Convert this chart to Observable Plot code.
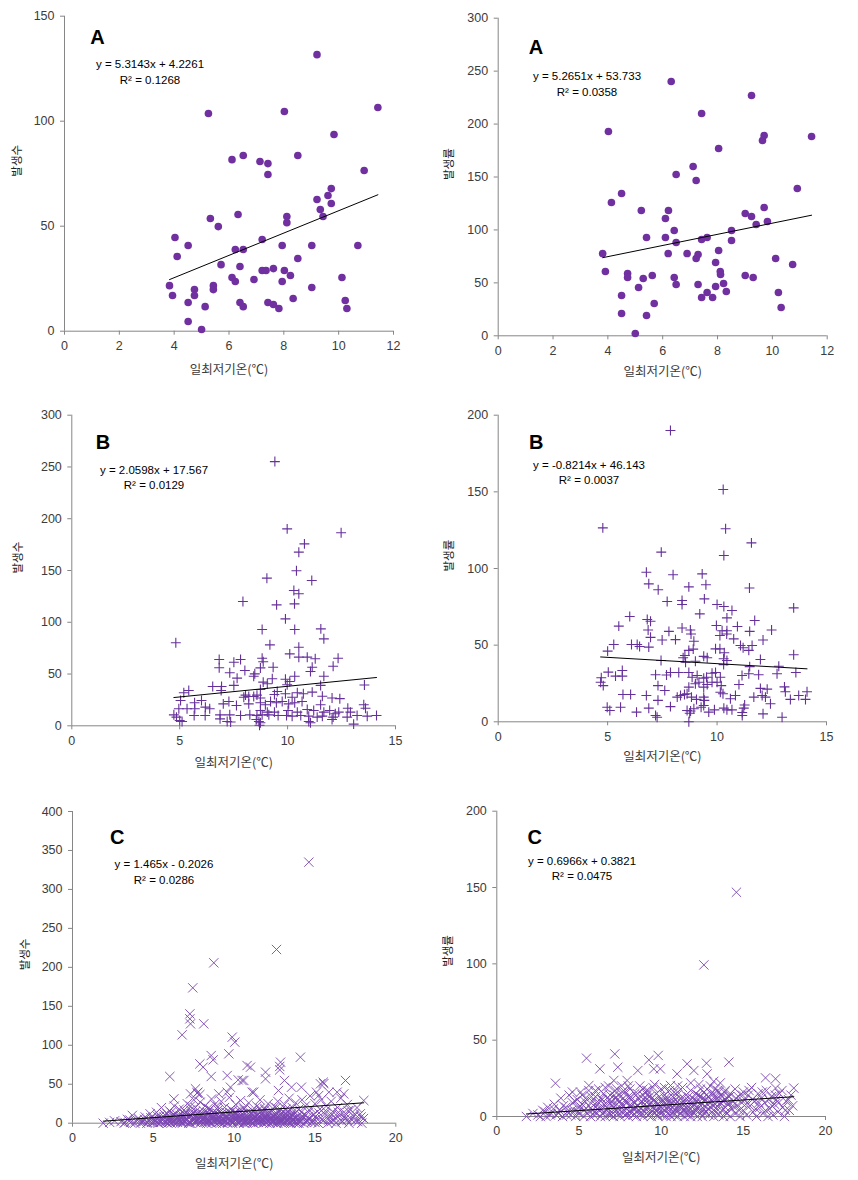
<!DOCTYPE html>
<html><head><meta charset="utf-8">
<script src="https://cdn.jsdelivr.net/npm/d3@7"></script>
<script src="https://cdn.jsdelivr.net/npm/@observablehq/plot@0.6"></script>
<style>
body{margin:0;background:#fff;}
#root{position:relative;width:858px;height:1180px;overflow:hidden;background:#fff;}
#root svg{position:absolute;}
</style></head><body><div id="root"></div>
<script>
// ---------- text ----------
const xLabel = "일최저기온(℃)";
const yLabels = ["발생수","발생률","발생수","발생률","발생수","발생률"];
const letters = ["A","A","B","B","C","C"];
const equations = ["y = 5.3143x + 4.2261","y = 5.2651x + 53.733","y = 2.0598x + 17.567","y = -0.8214x + 46.143","y = 1.465x - 0.2026","y = 0.6966x + 0.3821"];
const r2Labels = ["R² = 0.1268","R² = 0.0358","R² = 0.0129","R² = 0.0037","R² = 0.0286","R² = 0.0475"];
const slopes = [5.3143,5.2651,2.0598,-0.8214,1.465,0.6966];
const intercepts = [4.2261,53.733,17.567,46.143,-0.2026,0.3821];
// ---------- ticks ----------
const xTicksA = [0,2,4,6,8,10,12];
const xTicksB = [0,5,10,15];
const xTicksC = [0,5,10,15,20];
const yTicks1 = [0,50,100,150];
const yTicks2 = [0,50,100,150,200,250,300];
const yTicks3 = [0,50,100,150,200,250,300];
const yTicks4 = [0,50,100,150,200];
const yTicks5 = [0,50,100,150,200,250,300,350,400];
const yTicks6 = [0,50,100,150,200];
// ---------- data [temperature, value] ----------
const aCount = [[9.21,131.7],[5.25,103.7],[8.02,104.6],[11.43,106.5],[9.83,93.7],[6.11,81.7],[6.52,83.7],[7.13,80.8],[7.42,79.8],[7.42,74.6],[8.51,83.7],[10.93,76.5],[9.73,67.9],[9.61,64.6],[9.21,62.7],[9.73,60.8],[9.33,57.9],[9.43,54.6],[8.11,54.6],[8.11,51.7],[6.33,55.6],[5.32,53.7],[5.61,49.8],[4.03,44.6],[4.51,40.8],[4.11,35.6],[7.21,43.7],[6.23,38.9],[6.52,38.9],[7.94,40.8],[9.02,40.8],[10.70,40.8],[8.51,34.6],[5.71,31.7],[6.40,30.8],[7.21,28.9],[7.35,28.9],[7.62,29.8],[8.02,28.9],[8.24,26.5],[6.11,25.6],[6.23,23.7],[6.91,24.6],[7.94,23.7],[10.12,25.6],[3.83,21.7],[4.74,19.8],[4.74,17.0],[5.43,21.7],[5.43,19.8],[9.02,20.8],[3.94,17.0],[4.51,13.7],[5.13,11.7],[6.40,13.7],[6.52,11.7],[7.42,13.7],[7.62,12.7],[7.82,10.8],[8.34,15.6],[10.24,14.6],[10.30,10.8],[4.51,4.6],[5.00,0.8]];
const aRate = [[6.31,240.2],[9.24,227.0],[7.42,210.0],[4.02,193.0],[9.70,189.2],[9.64,184.5],[11.43,188.2],[8.04,176.9],[7.11,159.9],[6.49,152.3],[7.22,146.7],[4.50,134.4],[10.91,139.1],[4.13,125.9],[5.22,118.4],[6.21,118.4],[9.70,121.2],[9.01,115.5],[9.24,112.7],[6.10,110.8],[9.41,105.1],[9.82,108.0],[6.42,99.5],[8.51,99.5],[5.41,92.9],[6.10,92.9],[7.42,91.0],[7.62,92.9],[6.49,88.1],[8.51,90.0],[3.81,77.7],[6.20,77.7],[6.89,77.7],[7.22,73.0],[7.29,76.8],[8.04,80.6],[7.93,69.2],[10.12,73.0],[10.74,67.4],[3.91,60.7],[4.72,58.9],[4.72,55.1],[5.29,54.1],[5.62,57.0],[6.42,55.1],[6.49,48.5],[5.12,45.6],[7.29,48.5],[8.10,60.7],[8.11,57.9],[8.22,49.4],[7.93,46.6],[8.32,41.9],[9.01,57.0],[9.30,55.1],[7.62,40.9],[7.42,36.2],[7.82,36.2],[4.50,38.1],[10.22,40.9],[5.69,30.5],[4.50,21.1],[5.41,19.2],[10.32,26.8],[5.00,2.2]];
const bCount = [[9.41,255.2],[9.98,190.2],[12.48,186.4],[10.78,175.7],[10.52,167.7],[10.41,149.7],[11.12,140.3],[9.04,142.6],[10.29,130.7],[10.52,127.5],[10.32,117.8],[9.49,116.8],[7.93,120.1],[9.90,103.3],[8.82,93.0],[10.33,93.0],[11.54,93.6],[11.68,84.0],[4.82,80.2],[9.18,78.2],[10.52,75.9],[10.10,69.5],[10.52,66.3],[10.91,66.3],[11.28,64.7],[12.34,65.3],[6.83,64.0],[7.82,64.0],[7.51,61.4],[8.82,65.3],[8.87,61.9],[6.83,56.0],[9.33,56.6],[11.14,56.6],[12.11,57.5],[8.74,55.9],[8.02,53.4],[7.32,51.2],[8.48,50.2],[11.06,52.4],[10.33,47.9],[11.68,47.9],[7.66,46.0],[8.43,47.9],[9.29,45.4],[9.90,44.9],[10.10,42.8],[9.98,39.6],[8.87,42.2],[9.06,40.6],[6.53,38.0],[6.94,38.0],[7.51,39.0],[13.56,39.4],[11.53,39.0],[5.42,34.1],[5.19,31.9],[6.92,34.1],[8.74,35.1],[10.45,31.9],[10.73,30.9],[11.14,32.5],[9.52,33.1],[9.39,30.2],[8.05,29.6],[7.97,27.6],[8.20,28.3],[8.43,28.3],[8.58,29.6],[8.74,26.9],[9.90,30.9],[10.21,27.6],[11.61,28.6],[12.06,26.9],[12.42,26.2],[5.04,24.4],[5.69,22.2],[6.01,24.4],[7.28,23.4],[7.02,21.2],[7.63,19.6],[8.20,21.2],[8.74,22.2],[8.97,20.3],[9.21,23.4],[9.48,22.2],[9.75,23.4],[10.05,21.2],[10.33,22.2],[10.67,23.4],[11.53,20.3],[13.53,20.3],[13.61,17.0],[12.79,17.0],[4.96,16.4],[5.34,16.4],[5.70,16.4],[6.19,18.0],[6.39,16.4],[10.91,15.7],[11.21,14.8],[11.95,14.8],[11.68,13.2],[12.21,11.6],[12.37,13.2],[12.91,13.2],[8.74,14.8],[9.06,13.2],[9.39,13.2],[10.02,14.8],[10.45,13.2],[4.73,10.6],[5.67,10.0],[6.18,10.0],[6.87,10.6],[7.32,10.6],[7.82,10.0],[8.25,10.6],[8.58,10.0],[8.82,10.6],[9.13,10.6],[9.56,10.0],[9.95,10.0],[10.21,9.3],[10.61,10.0],[10.98,9.3],[11.37,8.4],[11.61,9.3],[12.11,8.4],[13.22,10.0],[13.69,9.3],[14.12,10.0],[4.85,8.4],[5.00,5.1],[5.11,4.2],[6.87,6.7],[7.20,4.2],[7.36,3.6],[8.55,6.1],[8.67,4.2],[8.74,2.9],[10.98,4.2],[11.06,2.9],[12.06,6.1],[13.06,1.6],[12.76,8.4],[8.70,0.5]];
const bRate = [[7.87,190.0],[10.28,151.5],[4.78,126.5],[10.39,125.9],[11.57,116.7],[7.45,110.7],[10.31,108.5],[6.77,97.6],[7.99,95.9],[9.32,96.5],[6.88,90.0],[7.31,86.1],[8.71,88.0],[9.49,89.4],[11.48,87.3],[7.72,78.5],[8.40,79.1],[8.40,76.5],[9.42,80.2],[10.00,76.5],[10.31,75.2],[10.68,72.6],[13.50,74.3],[9.21,70.4],[10.45,67.8],[6.01,68.7],[6.81,66.7],[6.96,65.6],[11.72,66.1],[5.51,62.4],[9.97,62.8],[8.40,61.2],[8.78,59.9],[8.81,57.3],[6.85,59.9],[7.80,59.0],[10.23,59.4],[10.45,59.4],[10.93,62.2],[11.49,59.0],[12.49,59.9],[10.13,56.3],[10.44,57.3],[6.96,55.1],[7.49,53.4],[8.10,53.6],[8.94,52.5],[10.76,54.1],[12.10,53.4],[5.28,50.4],[6.09,50.4],[6.46,49.1],[6.35,50.4],[6.88,48.7],[5.00,46.1],[11.07,49.8],[11.19,48.3],[11.45,46.6],[11.60,49.8],[9.93,47.6],[10.13,47.6],[8.71,46.6],[8.91,47.4],[8.53,43.2],[8.45,41.8],[9.39,42.7],[9.55,41.8],[10.33,45.0],[7.44,40.0],[9.01,39.5],[10.30,41.1],[10.45,40.0],[11.98,40.6],[13.50,43.7],[8.56,38.9],[10.30,37.3],[11.49,36.0],[12.82,36.2],[4.71,28.7],[4.68,25.8],[4.80,23.6],[5.03,32.4],[5.36,29.8],[5.67,33.5],[5.67,29.8],[7.19,30.7],[7.69,30.5],[7.87,32.2],[8.25,32.2],[8.71,32.2],[8.86,29.1],[9.09,30.2],[9.39,28.5],[9.52,29.1],[9.77,31.7],[9.93,32.2],[10.15,29.1],[11.14,30.2],[11.45,31.3],[11.90,30.7],[12.74,31.3],[13.60,32.2],[7.30,23.6],[7.61,20.4],[8.71,22.6],[9.01,24.8],[9.17,25.8],[9.39,22.6],[9.55,24.3],[9.77,25.8],[10.00,25.8],[10.19,23.6],[11.00,24.3],[10.15,19.3],[10.27,18.3],[5.70,17.8],[6.05,17.8],[6.77,17.2],[7.30,14.0],[8.18,16.1],[8.33,17.2],[8.51,17.8],[8.63,18.3],[8.83,16.1],[9.06,14.6],[9.39,16.1],[9.42,14.0],[10.84,17.2],[10.61,15.0],[11.68,16.1],[11.98,21.8],[12.06,17.2],[12.29,21.3],[12.21,16.1],[12.44,11.8],[13.08,22.8],[13.12,19.6],[13.35,14.6],[13.73,17.2],[14.11,19.6],[14.04,14.6],[4.98,9.5],[5.10,7.4],[5.59,9.5],[6.32,6.3],[6.88,8.9],[7.19,4.1],[7.26,3.0],[7.87,9.9],[8.63,7.4],[8.75,5.6],[8.79,7.0],[8.94,8.5],[9.27,9.5],[9.39,10.6],[9.62,6.3],[9.88,7.8],[10.31,8.9],[10.45,7.8],[10.68,7.8],[11.15,6.1],[11.22,8.9],[11.26,11.0],[11.15,4.1],[12.10,5.2],[12.97,3.0],[8.71,0.0]];
const cCount = [[14.62,335.0],[12.62,222.9],[8.74,205.8],[7.44,173.7],[7.26,140.3],[7.26,133.9],[7.30,127.5],[8.12,127.5],[6.78,113.4],[9.88,110.4],[10.04,104.0],[9.67,89.0],[8.58,86.8],[8.70,81.3],[14.10,84.7],[7.88,76.1],[8.08,71.9],[10.80,74.0],[11.01,71.9],[12.87,78.3],[12.82,68.4],[11.94,65.5],[6.02,59.9],[8.58,59.9],[9.57,61.2],[11.94,56.9],[10.25,55.6],[10.60,54.8],[13.11,54.8],[16.89,54.8],[15.34,50.5],[15.51,52.6],[9.77,46.2],[7.61,44.1],[14.16,46.2],[11.21,39.8],[7.75,39.8],[7.30,37.6],[7.88,36.8],[6.27,31.2],[9.05,37.6],[9.57,39.8],[16.78,37.6],[15.86,39.8],[16.37,39.8],[15.09,39.8],[18.02,29.1],[12.82,72.8],[10.49,54.8],[15.55,50.8],[7.71,38.6],[11.11,39.8],[13.55,46.2],[12.74,41.9],[15.23,35.5],
[1.9,0],[2.3,1],[2.6,3],[3.0,2],[3.2,0],[3.4,5],[3.6,1],[3.7,10],[3.9,3],[4.1,6],[4.2,0],[4.4,2],[4.5,8],[4.7,4],[4.8,12],[4.9,1],[5.0,6],[5.1,3],[5.2,14],[5.3,0],[5.4,9],[5.5,2],[5.5,20],[5.6,5],[5.7,11],[5.8,1],[5.9,7],[6.0,16],[6.0,3],[6.1,0],[6.2,9],[6.3,4],[6.3,22],[6.4,12],[6.5,1],[6.5,6],[6.6,18],[6.7,3],[6.8,10],[6.8,0],[6.9,7],[7.0,14],[7.0,2],[7.1,25],[7.1,5],[7.2,9],[7.3,0],[7.3,17],[7.4,3],[7.4,12],[7.5,6],[7.5,30],[7.6,1],[7.6,20],[7.7,8],[7.8,4],[7.8,13],[7.9,0],[7.9,27],[8.0,10],[8.0,2],[8.1,6],[8.1,16],[8.2,22],[8.2,3],[8.3,9],[8.3,0],[8.4,12],[8.4,5],[8.5,18],[8.5,1],[8.6,8],[8.6,31],[8.7,3],[8.7,14],[8.8,6],[8.8,24],[8.9,0],[8.9,10],[9.0,4],[9.0,17],[9.1,7],[9.1,2],[9.2,12],[9.2,28],[9.3,5],[9.3,0],[9.4,9],[9.4,20],[9.5,3],[9.5,14],[9.6,1],[9.6,7],[9.7,11],[9.7,33],[9.8,4],[9.8,18],[9.9,0],[9.9,8],[10.0,13],[10.0,2],[10.1,6],[10.1,24],[10.2,10],[10.2,3],[10.3,0],[10.3,16],[10.4,7],[10.4,29],[10.5,4],[10.5,12],[10.6,1],[10.6,20],[10.7,8],[10.7,3],[10.8,14],[10.8,0],[10.9,6],[10.9,26],[11.0,10],[11.0,2],[11.1,5],[11.1,17],[11.2,0],[11.2,9],[11.3,13],[11.3,3],[11.4,22],[11.4,6],[11.5,1],[11.5,11],[11.6,7],[11.6,30],[11.7,4],[11.7,15],[11.8,0],[11.8,9],[11.9,19],[11.9,2],[12.0,6],[12.0,12],[12.1,25],[12.1,3],[12.2,8],[12.2,0],[12.3,16],[12.3,5],[12.4,10],[12.4,1],[12.5,21],[12.5,4],[12.6,7],[12.6,13],[12.7,0],[12.7,28],[12.8,3],[12.8,9],[12.9,17],[12.9,1],[13.0,5],[13.0,12],[13.1,24],[13.1,0],[13.2,8],[13.3,2],[13.3,15],[13.4,6],[13.4,32],[13.5,0],[13.5,10],[13.6,20],[13.6,3],[13.7,1],[13.8,13],[13.8,26],[13.9,5],[13.9,0],[14.0,18],[14.1,2],[14.2,9],[14.2,30],[14.3,0],[14.4,22],[14.5,4],[14.6,14],[14.7,35],[14.8,1],[14.9,11],[15.0,25],[15.1,6],[15.2,0],[15.3,18],[15.4,30],[15.5,3],[15.6,12],[15.7,22],[15.8,0],[15.9,8],[16.0,28],[16.1,15],[16.2,4],[16.3,0],[16.4,20],[16.5,10],[16.6,32],[16.7,2],[16.8,14],[16.9,6],[17.0,24],[17.1,0],[17.2,17],[17.4,9],[17.5,3],[17.6,20],[17.8,12],[17.9,0],[18.0,6],
[4.3,2],[4.6,0],[5.2,4],[5.7,3],[5.9,0],[6.2,2],[6.4,5],[6.7,1],[6.9,3],[7.2,0],[7.5,4],[7.7,2],[8.0,5],[8.2,1],[8.4,3],[8.6,0],[8.8,2],[9.0,6],[9.2,1],[9.4,4],[9.6,0],[9.8,3],[10.0,5],[10.2,1],[10.4,3],[10.6,0],[10.8,4],[11.0,2],[11.2,5],[11.4,1],[11.6,3],[11.8,5],[12.0,1],[12.2,4],[12.4,2],[12.6,0],[12.8,5],[13.0,2],[13.2,4],[13.4,1],[13.6,5],[13.8,2],[14.0,0],[5.0,1],[5.5,5],[6.0,1],[6.6,4],[7.0,7],[7.8,6],[8.3,7],[8.9,5],[9.5,7],[10.1,8],[10.7,5],[11.3,8],[11.9,6],[12.5,7],[13.1,6],[14.5,3],[15.0,1],[16.0,2],[17.0,4],
[3.25,1],[3.55,4],[3.85,0],[4.15,3],[4.45,5],[4.65,1],[4.85,7],[5.05,2],[5.25,9],[5.35,4],[5.45,1],[5.65,8],[5.75,2],[5.85,12],[5.95,5],[6.05,8],[6.15,4],[6.25,11],[6.35,1],[6.45,8],[6.55,3],[6.65,10],[6.75,6],[6.85,2],[6.95,12],[7.05,4],[7.15,8],[7.25,2],[7.35,10],[7.45,7],[7.55,2],[7.65,11],[7.75,5],[7.85,9],[7.95,3],[8.05,12],[8.15,8],[8.25,4],[8.35,14],[8.45,2],[8.55,10],[8.65,6],[8.75,9],[8.85,4],[8.95,13],[9.05,1],[9.15,9],[9.25,4],[9.35,11],[9.45,2],[9.55,9],[9.65,5],[9.75,14],[9.85,2],[9.95,10],[10.05,4],[10.15,12],[10.25,7],[10.35,2],[10.45,10],[10.55,6],[10.65,12],[10.75,2],[10.85,9],[10.95,4],[11.05,13],[11.15,1],[11.25,7],[11.35,10],[11.45,4],[11.55,8],[11.65,2],[11.75,12],[11.85,4],[11.95,9],[12.05,3],[12.15,11],[12.25,6],[12.35,2],[12.45,8],[12.55,11],[12.65,3],[12.75,7],[12.85,12],[12.95,4],[13.05,9],[13.15,2],[13.25,11],[13.35,4],[13.45,8],[13.55,3],[13.65,11],[13.75,7],[13.85,1],[13.95,9],[14.05,4],[14.15,14],[14.25,6],[14.35,11],[14.45,1],[14.55,8],[14.65,5],[14.75,19],[14.85,3],[15.05,9],[15.25,13],[15.45,5],[15.65,16],[15.85,4],[16.05,11],[16.25,7],[16.45,14],[16.65,3],[16.85,9],[17.05,16],[17.25,5],[17.45,12],[17.65,2],[17.85,8],[6.1,14],[6.9,17],[7.6,15],[8.4,19],[9.0,21],[9.9,16],[10.6,18],[11.2,15],[11.9,17],[12.6,20],[13.2,18],[7.3,22],[8.8,13],[10.1,14],[11.6,19],[12.2,14],[13.6,14]];
const cRate = [[14.58,146.9],[12.60,99.3],[7.18,41.0],[5.46,38.2],[9.82,40.0],[9.25,37.1],[7.36,32.3],[6.27,31.2],[8.58,30.1],[9.55,31.2],[9.95,31.2],[12.76,34.9],[14.12,35.6],[11.58,34.5],[11.99,30.1],[10.97,27.9],[12.80,27.9],[3.57,21.8],[5.60,20.3],[16.35,25.3],[16.96,24.7],[18.07,18.6],[16.96,18.6],[10.57,20.3],[7.93,23.6],[7.12,23.6],
[1.8,0],[2.2,2],[2.5,1],[2.8,4],[3.0,0],[3.1,6],[3.3,2],[3.5,8],[3.6,1],[3.8,4],[3.9,12],[4.0,0],[4.2,6],[4.3,3],[4.4,14],[4.5,1],[4.6,9],[4.7,4],[4.8,0],[4.9,11],[5.0,6],[5.0,2],[5.1,16],[5.2,8],[5.3,0],[5.3,4],[5.4,12],[5.5,2],[5.6,7],[5.6,17],[5.7,0],[5.8,10],[5.8,4],[5.9,1],[6.0,13],[6.0,6],[6.1,2],[6.2,9],[6.2,18],[6.3,0],[6.3,5],[6.4,11],[6.5,3],[6.5,15],[6.6,7],[6.6,0],[6.7,12],[6.7,4],[6.8,20],[6.8,1],[6.9,8],[6.9,14],[7.0,3],[7.0,10],[7.1,0],[7.1,6],[7.2,17],[7.2,12],[7.3,2],[7.3,8],[7.4,5],[7.4,14],[7.5,0],[7.5,10],[7.6,20],[7.6,3],[7.7,7],[7.7,12],[7.8,1],[7.8,16],[7.9,5],[7.9,9],[8.0,0],[8.0,13],[8.1,3],[8.1,18],[8.2,7],[8.2,11],[8.3,1],[8.3,5],[8.4,15],[8.4,9],[8.5,0],[8.5,3],[8.6,12],[8.6,7],[8.7,20],[8.7,2],[8.8,10],[8.8,5],[8.9,0],[8.9,14],[9.0,8],[9.0,3],[9.1,17],[9.1,11],[9.2,1],[9.2,6],[9.3,13],[9.3,4],[9.4,9],[9.4,0],[9.5,19],[9.5,6],[9.6,2],[9.6,11],[9.7,15],[9.7,4],[9.8,8],[9.8,0],[9.9,13],[9.9,3],[10.0,6],[10.0,18],[10.1,1],[10.1,10],[10.2,4],[10.2,14],[10.3,0],[10.3,8],[10.4,2],[10.4,12],[10.5,6],[10.5,17],[10.6,0],[10.6,9],[10.7,3],[10.7,13],[10.8,7],[10.8,1],[10.9,11],[10.9,4],[11.0,16],[11.0,0],[11.1,8],[11.1,5],[11.2,2],[11.2,12],[11.3,6],[11.3,19],[11.4,0],[11.4,9],[11.5,3],[11.5,14],[11.6,7],[11.6,1],[11.7,10],[11.7,4],[11.8,17],[11.8,0],[11.9,6],[11.9,12],[12.0,2],[12.0,8],[12.1,15],[12.1,4],[12.2,0],[12.2,10],[12.3,6],[12.3,21],[12.4,2],[12.4,13],[12.5,8],[12.5,0],[12.6,5],[12.6,16],[12.7,11],[12.7,3],[12.8,18],[12.8,8],[12.9,1],[12.9,13],[13.0,6],[13.0,20],[13.1,10],[13.1,3],[13.2,15],[13.2,0],[13.3,8],[13.3,18],[13.4,12],[13.4,5],[13.5,1],[13.5,16],[13.6,9],[13.6,22],[13.7,4],[13.7,13],[13.8,0],[13.8,10],[13.9,17],[13.9,6],[14.0,2],[14.0,12],[14.1,8],[14.2,15],[14.2,0],[14.3,5],[14.4,10],[14.5,18],[14.5,2],[14.6,7],[14.7,13],[14.8,0],[14.9,9],[15.0,16],[15.0,4],[15.1,11],[15.2,1],[15.3,14],[15.4,7],[15.5,19],[15.6,3],[15.7,10],[15.8,0],[15.9,15],[16.0,6],[16.1,12],[16.2,2],[16.3,9],[16.4,17],[16.5,0],[16.6,5],[16.7,13],[16.8,1],[16.9,8],[17.0,11],[17.1,3],[17.2,15],[17.4,6],[17.5,0],[17.6,10],[17.8,4],[17.9,14],[18.0,7],
[2.65,0],[2.95,3],[3.25,1],[3.45,5],[3.75,2],[4.05,7],[4.25,1],[4.55,4],[4.75,10],[4.95,3],[5.15,6],[5.35,10],[5.55,4],[5.75,13],[5.95,3],[6.05,9],[6.15,5],[6.35,12],[6.45,2],[6.55,8],[6.75,5],[6.85,11],[6.95,1],[7.05,7],[7.15,14],[7.25,4],[7.35,11],[7.45,2],[7.55,8],[7.65,16],[7.75,4],[7.85,10],[7.95,2],[8.05,7],[8.15,13],[8.25,3],[8.35,9],[8.45,6],[8.55,15],[8.65,4],[8.75,9],[8.85,2],[8.95,11],[9.05,5],[9.15,14],[9.25,8],[9.35,2],[9.45,12],[9.55,5],[9.65,9],[9.75,1],[9.85,6],[9.95,10],[10.05,3],[10.15,8],[10.25,12],[10.35,5],[10.45,9],[10.55,1],[10.65,6],[10.75,10],[10.85,4],[10.95,14],[11.05,7],[11.15,2],[11.25,9],[11.35,4],[11.45,11],[11.55,5],[11.65,13],[11.75,2],[11.85,8],[11.95,3],[12.05,11],[12.15,6],[12.25,14],[12.35,4],[12.45,9],[12.55,12],[12.65,2],[12.75,14],[12.85,5],[12.95,10],[13.05,15],[13.15,7],[13.25,12],[13.35,3],[13.45,17],[13.55,8],[13.65,14],[13.75,10],[13.85,16],[13.95,3],[14.05,9],[14.15,13],[14.35,7],[14.55,12],[14.75,4],[14.95,14],[15.15,8],[15.35,17],[15.55,11],[15.75,5],[15.95,9],[16.15,16],[16.35,4],[16.55,11],[16.75,7],[16.95,14],[17.15,9],[17.35,17],[17.55,4],[17.75,11],[6.0,17],[6.6,19],[7.3,18],[8.0,20],[8.9,18],[9.6,21],[10.2,19],[11.0,20],[11.8,22],[12.4,18],[13.2,23],[5.2,14],[4.6,16],[10.8,16],[9.2,17]];

// ---------- layout & style ----------
const AXIS = "#868686", TEXT = "#3c3c3c", PURPLE = "#7030A0";
const NUM_FONT = "'Liberation Sans', Arial, sans-serif";
const KR_FONT = "'Noto Sans CJK KR', 'Noto Sans', sans-serif";
const layout = [
  {left:0,   top:0,   w:429, h:395, mL:64,   mT:15.7, mR:36,   mB:64.3, letter:[97,28.8],  eq:[149.5,59], r2y:75,   ylabX:17,   xtitleY:373},
  {left:430, top:0,   w:428, h:395, mL:67.7, mT:17.7, mR:31.3, mB:59.7, letter:[105.5,38.8],eq:[156.5,71], r2y:87,   ylabX:19,   xtitleY:375},
  {left:0,   top:400, w:429, h:390, mL:71.3, mT:14.7, mR:34,   mB:64.7, letter:[102.5,33.8],eq:[153.5,65], r2y:80.7, ylabX:17.5, xtitleY:366.7},
  {left:430, top:400, w:428, h:390, mL:67.7, mT:14.7, mR:32,   mB:68.7, letter:[105.8,33.8],eq:[158.5,60], r2y:75.7, ylabX:19,   xtitleY:360.7},
  {left:0,   top:790, w:429, h:390, mL:72,   mT:21,   mR:33.7, mB:57.3, letter:[116.8,39.5],eq:[163.5,69], r2y:85,   ylabX:25,   xtitleY:377},
  {left:430, top:790, w:428, h:390, mL:66.3, mT:20.7, mR:33,   mB:64,   letter:[104.2,38.8],eq:[151.5,66], r2y:81.7, ylabX:18,   xtitleY:371.7}
];
const datasets = [aCount, aRate, bCount, bRate, cCount, cRate];
const xTickSets = [xTicksA, xTicksA, xTicksB, xTicksB, xTicksC, xTicksC];
const yTickSets = [yTicks1, yTicks2, yTicks3, yTicks4, yTicks5, yTicks6];
const markerKind = ["dot","dot","plus","plus","times","times"];

const root = document.getElementById("root");
datasets.forEach((data, i) => {
  const L = layout[i];
  const xT = xTickSets[i], yT = yTickSets[i];
  const xDom = [xT[0], xT[xT.length-1]], yDom = [yT[0], yT[yT.length-1]];
  const [x0, x1] = d3.extent(data, d => d[0]);
  const trend = [x0, x1].map(x => [x, slopes[i]*x + intercepts[i]]);
  const frameBottom = L.h - L.mB;
  let pts;
  if (markerKind[i] === "dot") pts = Plot.dot(data, {x: d=>d[0], y: d=>d[1], r: 3.8, fill: PURPLE, stroke: "none"});
  else if (markerKind[i] === "plus") pts = Plot.dot(data, {x: d=>d[0], y: d=>d[1], symbol: "plus", r: 3.3, fill: "none", stroke: "#66309A", strokeWidth: 1.1});
  else pts = Plot.dot(data, {x: d=>d[0], y: d=>d[1], symbol: "times", r: 4.3, fill: "none", stroke: "#7A45B2", strokeWidth: 0.9});
  const svg = Plot.plot({
    width: L.w, height: L.h,
    marginLeft: L.mL, marginTop: L.mT, marginRight: L.mR, marginBottom: L.mB,
    x: {domain: xDom, axis: null},
    y: {domain: yDom, axis: null},
    style: {fontFamily: NUM_FONT, fontSize: "12.5px", color: TEXT, background: "transparent", overflow: "visible"},
    marks: [
      Plot.axisX({ticks: xT, tickSize: 4, tickPadding: 6, stroke: AXIS, fill: TEXT, label: null, fontSize: 12.5}),
      Plot.axisY({ticks: yT, tickSize: 4, tickPadding: 6, stroke: AXIS, fill: TEXT, label: null, fontSize: 12.5}),
      Plot.ruleY([yDom[0]], {stroke: AXIS}),
      Plot.ruleX([xDom[0]], {stroke: AXIS}),
      pts,
      Plot.line(trend, {x: d=>d[0], y: d=>d[1], stroke: "#000", strokeWidth: 1}),
      Plot.text([letters[i]], {text: d=>d, frameAnchor: "top-left", dx: L.letter[0]-L.mL, dy: L.letter[1]-L.mT, textAnchor: "middle", fontSize: 20, fontWeight: "bold", fill: "#000", fontFamily: NUM_FONT}),
      Plot.text([equations[i]], {text: d=>d, frameAnchor: "top-left", dx: L.eq[0]-L.mL, dy: L.eq[1]-L.mT, textAnchor: "middle", fontSize: 11.5, fill: "#000", fontFamily: NUM_FONT}),
      Plot.text([r2Labels[i]], {text: d=>d, frameAnchor: "top-left", dx: L.eq[0]-L.mL, dy: L.r2y-L.mT, textAnchor: "middle", fontSize: 11.5, fill: "#000", fontFamily: NUM_FONT}),
      Plot.text([yLabels[i]], {text: d=>d, frameAnchor: "left", dx: L.ylabX-L.mL, dy: 3, rotate: -90, fontSize: 11.5, fill: "#222", fontFamily: KR_FONT}),
      Plot.text([xLabel], {text: d=>d, frameAnchor: "bottom", dy: L.xtitleY-frameBottom, fontSize: 12.5, fill: TEXT, fontFamily: KR_FONT})
    ]
  });
  svg.style.left = L.left + "px";
  svg.style.top = L.top + "px";
  root.appendChild(svg);
});
</script></body></html>
